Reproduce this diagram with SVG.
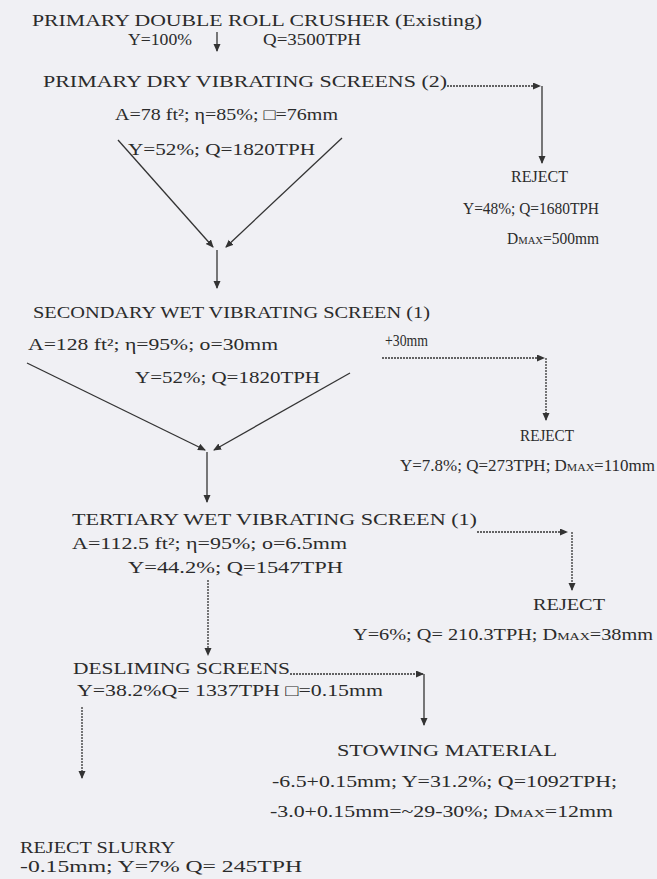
<svg xmlns="http://www.w3.org/2000/svg" width="657" height="879" viewBox="0 0 657 879">
<style>
text{font-family:"Liberation Serif","Times New Roman",serif;fill:#2b2b2b;}
.h{font-size:17px;}
.d{font-size:16px;}
.s{font-size:11px;}
.c{stroke:#333;stroke-width:1.3;fill:none;}
.dot{stroke:#333;stroke-width:1.3;fill:none;stroke-dasharray:2 1;}
</style>
<defs>
<marker id="ah" markerWidth="8" markerHeight="8" refX="7" refY="3.5" orient="auto" markerUnits="userSpaceOnUse">
<path d="M0,0 L8,3.5 L0,7 z" fill="#333"/>
</marker>
</defs>
<rect width="657" height="879" fill="#f0f0f4"/>

<g id="crusher">
<text class="h" x="32" y="26" textLength="450" lengthAdjust="spacingAndGlyphs">PRIMARY DOUBLE ROLL CRUSHER (Existing)</text>
<text class="d" x="128" y="45" textLength="64" lengthAdjust="spacingAndGlyphs">Y=100%</text>
<text class="d" x="263" y="45" textLength="98" lengthAdjust="spacingAndGlyphs">Q=3500TPH</text>
</g>

<g id="primary-screens">
<text class="h" x="43" y="87" textLength="404" lengthAdjust="spacingAndGlyphs">PRIMARY DRY VIBRATING SCREENS (2)</text>
<text class="d" x="115" y="120" textLength="223" lengthAdjust="spacingAndGlyphs">A=78 ft²; η=85%; □=76mm</text>
<text class="d" x="128" y="155" textLength="187" lengthAdjust="spacingAndGlyphs">Y=52%; Q=1820TPH</text>
</g>

<g id="reject-1">
<text class="d" x="511" y="182" textLength="57" lengthAdjust="spacingAndGlyphs">REJECT</text>
<text class="d" x="463" y="214" textLength="136" lengthAdjust="spacingAndGlyphs">Y=48%; Q=1680TPH</text>
<text class="d" x="507" y="244" textLength="92" lengthAdjust="spacingAndGlyphs">D<tspan class="s">MAX</tspan>=500mm</text>
</g>

<g id="secondary-screen">
<text class="h" x="33" y="318" textLength="397" lengthAdjust="spacingAndGlyphs">SECONDARY WET VIBRATING SCREEN (1)</text>
<text class="d" x="28" y="350" textLength="250" lengthAdjust="spacingAndGlyphs">A=128 ft²; η=95%; o=30mm</text>
<text class="d" x="135" y="383" textLength="185" lengthAdjust="spacingAndGlyphs">Y=52%; Q=1820TPH</text>
<text class="d" x="385" y="346" textLength="43" lengthAdjust="spacingAndGlyphs">+30mm</text>
</g>

<g id="reject-2">
<text class="d" x="520" y="441" textLength="54" lengthAdjust="spacingAndGlyphs">REJECT</text>
<text class="d" x="400" y="471" textLength="255" lengthAdjust="spacingAndGlyphs">Y=7.8%; Q=273TPH; D<tspan class="s">MAX</tspan>=110mm</text>
</g>

<g id="tertiary-screen">
<text class="h" x="72" y="525" textLength="405" lengthAdjust="spacingAndGlyphs">TERTIARY WET VIBRATING SCREEN (1)</text>
<text class="d" x="72" y="549" textLength="275" lengthAdjust="spacingAndGlyphs">A=112.5 ft²; η=95%; o=6.5mm</text>
<text class="d" x="128" y="573" textLength="215" lengthAdjust="spacingAndGlyphs">Y=44.2%; Q=1547TPH</text>
</g>

<g id="reject-3">
<text class="d" x="533" y="610" textLength="72" lengthAdjust="spacingAndGlyphs">REJECT</text>
<text class="d" x="353" y="640" textLength="300" lengthAdjust="spacingAndGlyphs">Y=6%; Q= 210.3TPH; D<tspan class="s">MAX</tspan>=38mm</text>
</g>

<g id="desliming-screens">
<text class="h" x="73" y="674" textLength="217" lengthAdjust="spacingAndGlyphs">DESLIMING SCREENS</text>
<text class="d" x="77" y="696" textLength="306" lengthAdjust="spacingAndGlyphs">Y=38.2%Q= 1337TPH  □=0.15mm</text>
</g>

<g id="stowing-material">
<text class="h" x="337" y="756" textLength="220" lengthAdjust="spacingAndGlyphs">STOWING MATERIAL</text>
<text class="d" x="272" y="787" textLength="345" lengthAdjust="spacingAndGlyphs">-6.5+0.15mm; Y=31.2%; Q=1092TPH;</text>
<text class="d" x="270" y="817" textLength="343" lengthAdjust="spacingAndGlyphs">-3.0+0.15mm=~29-30%; D<tspan class="s">MAX</tspan>=12mm</text>
</g>

<g id="reject-slurry">
<text class="d" x="20" y="853" textLength="155" lengthAdjust="spacingAndGlyphs">REJECT SLURRY</text>
<text class="d" x="20" y="872" textLength="282" lengthAdjust="spacingAndGlyphs">-0.15mm; Y=7% Q= 245TPH</text>
</g>

<g id="connectors">
<path class="c" d="M217,32 V51" marker-end="url(#ah)"/>
<path class="dot" d="M447,86 H540" marker-end="url(#ah)"/>
<path class="c" d="M542,86 V163" marker-end="url(#ah)"/>
<path class="c" d="M118,140 L213,247" marker-end="url(#ah)"/>
<path class="c" d="M342,138 L226,247" marker-end="url(#ah)"/>
<path class="c" d="M217,250 V288" marker-end="url(#ah)"/>
<path class="dot" d="M382,358 H544" marker-end="url(#ah)"/>
<path class="dot" d="M546,358 V420" marker-end="url(#ah)"/>
<path class="c" d="M27,363 L205,450" marker-end="url(#ah)"/>
<path class="c" d="M350,373 L214,450" marker-end="url(#ah)"/>
<path class="c" d="M207,452 V502" marker-end="url(#ah)"/>
<path class="dot" d="M477,532 H567" marker-end="url(#ah)"/>
<path class="dot" d="M572,532 V590" marker-end="url(#ah)"/>
<path class="dot" d="M208,580 V655" marker-end="url(#ah)"/>
<path class="dot" d="M290,674 H423" marker-end="url(#ah)"/>
<path class="c" d="M424,674 V725" marker-end="url(#ah)"/>
<path class="dot" d="M82,707 V778" marker-end="url(#ah)"/>
</g>
</svg>
